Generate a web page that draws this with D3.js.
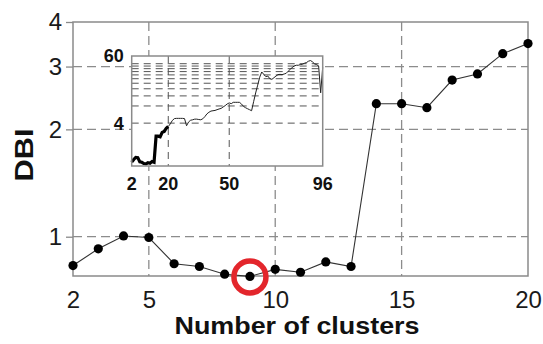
<!DOCTYPE html>
<html>
<head>
<meta charset="utf-8">
<script src="https://cdn.jsdelivr.net/npm/d3@7"></script>
<style>
  body { margin: 0; background: #fff; }
  svg { display: block; font-family: "Liberation Sans", Arial, sans-serif; }
</style>
</head>
<body>
<div id="chart"></div>
<script>
// data
var clusters = [2, 3, 4, 5, 6, 7, 8, 9, 10, 11, 12, 13, 14, 15, 16, 17, 18, 19, 20]
var dbi = [0.83, 0.925, 1.005, 0.995, 0.84, 0.825, 0.785, 0.774, 0.81, 0.795, 0.85, 0.825,
           2.36, 2.36, 2.3, 2.75, 2.86, 3.26, 3.48]
var bestK = 9

// inset: DBI for 20..96 clusters (thin line)
var insetK = d3.range(20, 97)
var insetDbi = [3.48, 3.89, 4.45, 4.8, 4.85, 4.85, 4.85, 4.85, 4.8, 3.6, 4.2, 4.5, 4.58, 4.7, 4.7,
                4.63, 4.58, 4.77, 5.2, 5.8, 6.2, 6.5, 6.6, 6.68, 6.88, 7.08, 7.25, 7.68, 8.1, 8.68,
                9.04, 8.78, 9.26, 9.26, 9.26, 9.26, 8.68, 7.87, 7.46, 7.16, 6.88, 6.6, 9.5, 13.5,
                18.5, 25.5, 31.5, 28.6, 26.1, 26.7, 24.0, 23.4, 25.0, 26.7, 28.3, 28.6, 28.3, 29.0,
                29.8, 32.4, 35.1, 37.6, 40.2, 41.3, 41.3, 42.5, 43.0, 44.8, 46.1, 48.6, 50.0, 47.3,
                43.6, 42.5, 40.2, 13.6, 38.1]

var xTicks = [2, 5, 10, 15, 20]
var yTicks = [1, 2, 3, 4]
var insetXTicks = [2, 20, 50, 96]
var insetYTicks = [4, 60]
var insetGrid = [4, 8, 12, 16, 20, 24, 28, 32, 36, 40, 44]

var svgWidth = 543
var svgHeight = 344
var margin = { top: 22, right: 15, bottom: 68, left: 73 }
var width = svgWidth - margin.left - margin.right
var height = svgHeight - margin.top - margin.bottom

var svg = d3.select("#chart").append("svg")
  .attr("width", svgWidth)
  .attr("height", svgHeight)

var chartGroup = svg.append("g")
  .attr("transform", `translate(${margin.left}, ${margin.top})`)

var xScale = d3.scaleLinear().domain([2, 20]).range([0, width])
var yScale = d3.scaleLog().domain([0.776, 4]).range([height, 0])

// grid
chartGroup.selectAll(".vgrid")
  .data(xTicks.filter(d => d > 2 && d < 20))
  .enter().append("line")
  .attr("x1", d => xScale(d)).attr("x2", d => xScale(d))
  .attr("y1", 0).attr("y2", height)
  .attr("stroke", "#8c8c8c").attr("stroke-width", 1.3)
  .attr("stroke-dasharray", "9,5")

chartGroup.selectAll(".hgrid")
  .data(yTicks.filter(d => d < 4))
  .enter().append("line")
  .attr("x1", 0).attr("x2", width)
  .attr("y1", d => yScale(d)).attr("y2", d => yScale(d))
  .attr("stroke", "#8c8c8c").attr("stroke-width", 1.3)
  .attr("stroke-dasharray", "9,5")

// frame
chartGroup.append("rect")
  .attr("width", width).attr("height", height)
  .attr("fill", "none").attr("stroke", "#8a8a8a").attr("stroke-width", 1.5)

// axes
var leftAxis = d3.axisLeft(yScale).tickValues(yTicks).tickFormat(d3.format("d")).tickSize(7).tickPadding(4)
var yAxis = chartGroup.append("g").call(leftAxis)
yAxis.select(".domain").remove()
yAxis.selectAll("line").attr("stroke", "#8a8a8a").attr("stroke-width", 1.3)
yAxis.selectAll("text").attr("font-size", 24).attr("fill", "#1a1a1a").attr("font-family", "Liberation Sans, Arial, sans-serif")

var bottomAxis = d3.axisBottom(xScale).tickValues(xTicks).tickSize(0).tickPadding(15)
var xAxis = chartGroup.append("g").attr("transform", `translate(0, ${height})`).call(bottomAxis)
xAxis.select(".domain").remove()
xAxis.selectAll("text").attr("font-size", 24).attr("fill", "#1a1a1a").attr("font-family", "Liberation Sans, Arial, sans-serif")

// axis titles
svg.append("text")
  .attr("x", 297).attr("y", 334)
  .attr("text-anchor", "middle")
  .attr("font-size", 23).attr("font-weight", "bold")
  .attr("textLength", 245).attr("lengthAdjust", "spacingAndGlyphs")
  .attr("fill", "#111")
  .text("Number of clusters")

svg.append("text")
  .attr("transform", "translate(33, 155) rotate(-90)")
  .attr("text-anchor", "middle")
  .attr("font-size", 25).attr("font-weight", "bold")
  .attr("textLength", 53).attr("lengthAdjust", "spacingAndGlyphs")
  .attr("fill", "#111")
  .text("DBI")

// main line + points
var mainData = clusters.map((k, i) => ({ k: k, v: dbi[i] }))
var line = d3.line().x(d => xScale(d.k)).y(d => yScale(d.v))

chartGroup.append("path")
  .datum(mainData)
  .attr("d", line)
  .attr("fill", "none").attr("stroke", "#333").attr("stroke-width", 1.1)

chartGroup.selectAll(".pt")
  .data(mainData)
  .enter().append("circle")
  .attr("cx", d => xScale(d.k)).attr("cy", d => yScale(d.v))
  .attr("r", 4.6).attr("fill", "#000")

// highlight best k
var best = mainData.find(d => d.k === bestK)
chartGroup.append("circle")
  .attr("cx", xScale(best.k)).attr("cy", yScale(best.v) + 0.5)
  .attr("r", 16)
  .attr("fill", "none").attr("stroke", "#e3262c").attr("stroke-width", 5.5)

// inset
var inset = { x: 131.7, y: 56, w: 191, h: 110 }
var insetGroup = svg.append("g").attr("transform", `translate(${inset.x}, ${inset.y})`)
var ix = d3.scaleLinear().domain([2, 96]).range([0, inset.w])
var iy = d3.scaleLog().domain([0.71, 60]).range([inset.h, 0])

insetGroup.append("rect")
  .attr("width", inset.w).attr("height", inset.h)
  .attr("fill", "#fff")

insetGroup.selectAll(".ihgrid")
  .data(insetGrid)
  .enter().append("line")
  .attr("x1", 0).attr("x2", inset.w)
  .attr("y1", d => iy(d)).attr("y2", d => iy(d))
  .attr("stroke", "#555").attr("stroke-width", 1)
  .attr("stroke-dasharray", "7,5")

insetGroup.selectAll(".ivgrid")
  .data([20, 50])
  .enter().append("line")
  .attr("x1", d => ix(d)).attr("x2", d => ix(d))
  .attr("y1", 0).attr("y2", inset.h)
  .attr("stroke", "#555").attr("stroke-width", 1)
  .attr("stroke-dasharray", "7,5")

var insetLine = d3.line().x(d => ix(d.k)).y(d => iy(d.v))
insetGroup.append("path")
  .datum(insetK.map((k, i) => ({ k: k, v: insetDbi[i] })))
  .attr("d", insetLine)
  .attr("fill", "none").attr("stroke", "#222").attr("stroke-width", 1)

insetGroup.append("path")
  .datum(mainData)
  .attr("d", insetLine)
  .attr("fill", "none").attr("stroke", "#000").attr("stroke-width", 3.2)

insetGroup.append("rect")
  .attr("width", inset.w).attr("height", inset.h)
  .attr("fill", "none").attr("stroke", "#8a8a8a").attr("stroke-width", 1.5)

insetGroup.selectAll(".ixlab")
  .data(insetXTicks)
  .enter().append("text")
  .attr("x", d => ix(d)).attr("y", inset.h + 24)
  .attr("text-anchor", "middle")
  .attr("font-size", 18).attr("font-weight", "bold").attr("fill", "#111")
  .text(d => d)

insetGroup.selectAll(".iylab")
  .data(insetYTicks)
  .enter().append("text")
  .attr("x", -8).attr("y", d => iy(d))
  .attr("dy", "0.36em")
  .attr("text-anchor", "end")
  .attr("font-size", 18).attr("font-weight", "bold").attr("fill", "#111")
  .text(d => d)
</script>
</body>
</html>
